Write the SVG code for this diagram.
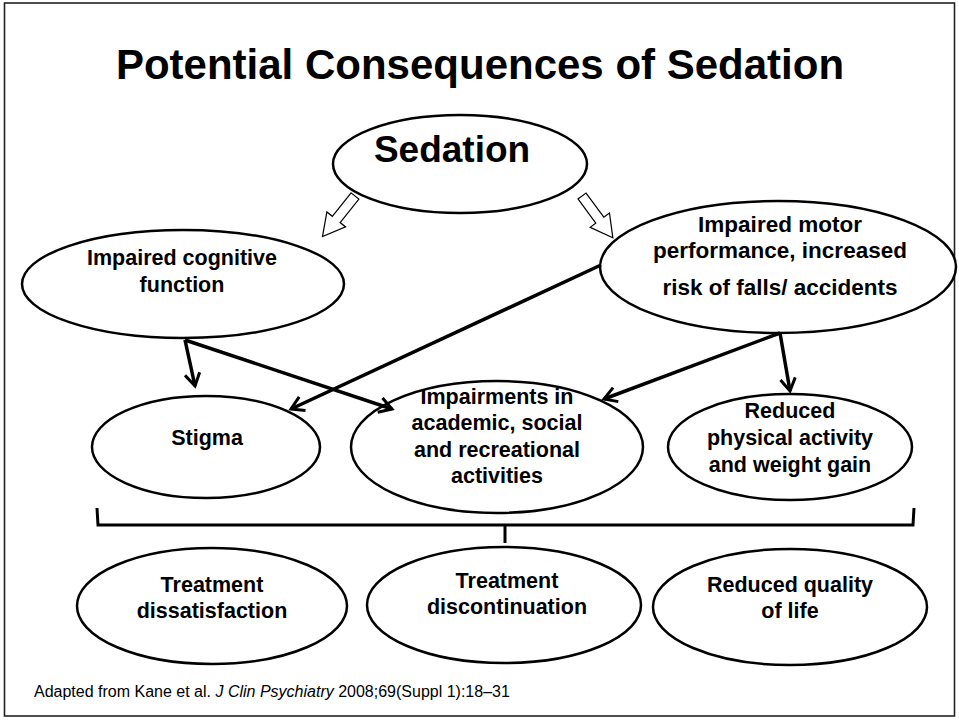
<svg xmlns="http://www.w3.org/2000/svg" width="959" height="721" viewBox="0 0 959 721">
<style>
.n ellipse{fill:#fff;stroke:#000;stroke-width:2.5}
.t{font-family:"Liberation Sans",Arial,sans-serif;font-weight:bold;font-size:21.5px;text-anchor:middle;fill:#000}
.c line{stroke:#000;stroke-width:3.5;fill:none}
.ha{fill:#fff;stroke:#000;stroke-width:1.2}
</style>
<defs>
<marker id="ah" viewBox="0 0 14 14" refX="11" refY="7" markerWidth="5" markerHeight="5" orient="auto" markerUnits="strokeWidth">
<path d="M1,1 L11,7 L1,13" fill="none" stroke="#000" stroke-width="2.4"/>
</marker>
</defs>
<rect x="0" y="0" width="959" height="721" fill="#fff"/>
<rect x="4.5" y="3" width="950" height="713" fill="none" stroke="#222" stroke-width="1.6"/>
<text x="480" y="79" style="font-family:'Liberation Sans',Arial,sans-serif;font-weight:bold;font-size:42px;text-anchor:middle">Potential Consequences of Sedation</text>

<g id="sedation" class="n">
<ellipse cx="460" cy="164" rx="127" ry="49"/>
<text class="t" x="452" y="162" style="font-size:37px">Sedation</text>
</g>
<g id="cognitive" class="n">
<ellipse cx="183" cy="284" rx="161" ry="54"/>
<text class="t" x="182" y="265">Impaired cognitive</text>
<text class="t" x="182" y="292">function</text>
</g>
<g id="motor" class="n">
<ellipse cx="778" cy="267" rx="178" ry="66"/>
<text class="t" x="780" y="232" style="font-size:22.5px">Impaired motor</text>
<text class="t" x="780" y="258" style="font-size:22.5px">performance, increased</text>
<text class="t" x="780" y="295" style="font-size:22.5px">risk of falls/ accidents</text>
</g>
<g id="stigma" class="n">
<ellipse cx="206" cy="447" rx="114" ry="51"/>
<text class="t" x="207" y="445">Stigma</text>
</g>
<g id="impairments" class="n">
<ellipse cx="497" cy="447" rx="146" ry="66"/>
<text class="t" x="497" y="404">Impairments in</text>
<text class="t" x="497" y="430">academic, social</text>
<text class="t" x="497" y="457">and recreational</text>
<text class="t" x="497" y="483">activities</text>
</g>
<g id="reduced-activity" class="n">
<ellipse cx="790" cy="447" rx="122" ry="53"/>
<text class="t" x="790" y="418">Reduced</text>
<text class="t" x="790" y="445">physical activity</text>
<text class="t" x="790" y="472">and weight gain</text>
</g>
<g id="dissatisfaction" class="n">
<ellipse cx="212" cy="606" rx="135" ry="58"/>
<text class="t" x="212" y="592">Treatment</text>
<text class="t" x="212" y="618">dissatisfaction</text>
</g>
<g id="discontinuation" class="n">
<ellipse cx="504" cy="605" rx="137" ry="58"/>
<text class="t" x="507" y="588">Treatment</text>
<text class="t" x="507" y="614">discontinuation</text>
</g>
<g id="quality" class="n">
<ellipse cx="790" cy="607" rx="137" ry="58"/>
<text class="t" x="790" y="592">Reduced quality</text>
<text class="t" x="790" y="618">of life</text>
</g>

<g id="connectors" class="c">
<polygon class="ha" points="-5,0 5,0 5,30 12,30 0,52 -12,30 -5,30" transform="translate(355,196) rotate(38.7)"/>
<polygon class="ha" points="-5,0 5,0 5,30 12,30 0,52 -12,30 -5,30" transform="translate(582,196) rotate(-36.4)"/>
<line x1="185" y1="340" x2="195" y2="386" marker-end="url(#ah)"/>
<line x1="185" y1="340" x2="392" y2="409" marker-end="url(#ah)"/>
<line x1="601" y1="265" x2="291" y2="409" marker-end="url(#ah)"/>
<line x1="780" y1="333" x2="604" y2="399" marker-end="url(#ah)"/>
<line x1="780" y1="333" x2="790" y2="391" marker-end="url(#ah)"/>
<path d="M97,508 L98,525 L505,525 L505,543 M505,525 L913,525 L914,508" fill="none" stroke="#000" stroke-width="3"/>
</g>

<text x="34" y="697" style="font-family:'Liberation Sans',Arial,sans-serif;font-size:16px;fill:#000">Adapted from Kane et al. <tspan font-style="italic">J Clin Psychiatry</tspan> 2008;69(Suppl 1):18–31</text>
</svg>
